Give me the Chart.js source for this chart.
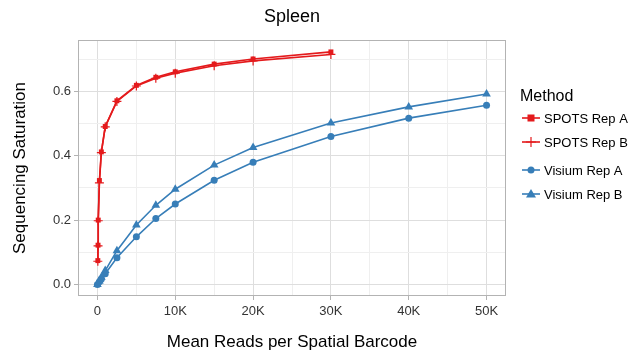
<!DOCTYPE html>
<html>
<head>
<meta charset="utf-8">
<script src="https://cdn.jsdelivr.net/npm/chart.js@4/dist/chart.umd.min.js"></script>
<style>
  html, body { margin: 0; padding: 0; background: #fff; }
  #wrap { width: 640px; height: 362px; }
</style>
</head>
<body>
<div id="wrap"><canvas id="chart" width="640" height="362"></canvas></div>
<script>
(function() {
    'use strict';

    const chartTitle = 'Spleen';
    const xTitle = 'Mean Reads per Spatial Barcode';
    const yTitle = 'Sequencing Saturation';
    const legendTitle = 'Method';

    const spotsReads = [50, 75, 100, 250, 500, 1000, 2500, 5000, 7500, 10000, 15000, 20000, 30000];
    const spotsRepA = [0.074, 0.122, 0.200, 0.323, 0.412, 0.491, 0.571, 0.619, 0.644, 0.661, 0.685, 0.701, 0.723];
    const spotsRepB = [0.072, 0.120, 0.198, 0.316, 0.410, 0.490, 0.569, 0.617, 0.641, 0.657, 0.680, 0.695, 0.715];

    const visiumReads = [0, 250, 500, 1000, 2500, 5000, 7500, 10000, 15000, 20000, 30000, 40000, 50000];
    const visiumRepA = [0, 0.008, 0.017, 0.033, 0.083, 0.148, 0.205, 0.250, 0.324, 0.380, 0.460, 0.517, 0.557];
    const visiumRepB = [0, 0.011, 0.022, 0.043, 0.105, 0.185, 0.246, 0.296, 0.371, 0.426, 0.502, 0.552, 0.592];

    const seriesNames = ['SPOTS Rep A', 'SPOTS Rep B', 'Visium Rep A', 'Visium Rep B'];
    const xTicks = [0, 10000, 20000, 30000, 40000, 50000];
    const xTickLabels = ['0', '10K', '20K', '30K', '40K', '50K'];
    const xMinorTicks = [5000, 15000, 25000, 35000, 45000];
    const yTicks = [0, 0.2, 0.4, 0.6];
    const yMinorTicks = [0.1, 0.3, 0.5, 0.7];

    const RED = '#e41a1c';
    const BLUE = '#377eb8';
    const FONT = '"Liberation Sans", Arial, sans-serif';

    function toPoints(xs, ys) {
        return xs.map((x, i) => ({ x: x, y: ys[i] }));
    }

    function series(label, xs, ys, color, style, radius, order) {
        return {
            label: label,
            data: toPoints(xs, ys),
            borderColor: color,
            backgroundColor: color,
            borderWidth: 1.6,
            pointStyle: style,
            pointRadius: radius,
            pointBorderWidth: style === 'cross' ? 1.2 : 0,
            pointBorderColor: color,
            tension: 0,
            order: order
        };
    }

    function isMajorX(v) {
        return xTicks.some(t => Math.abs(t - v) < 1e-6);
    }

    function isMajorY(v) {
        return yTicks.some(t => Math.abs(t - v) < 1e-6);
    }

    function tickList(major, minor) {
        return major.concat(minor).sort((a, b) => a - b).map(v => ({ value: v }));
    }

    function drawMarker(ctx, style, x, y, color) {
        ctx.save();
        ctx.fillStyle = color;
        ctx.strokeStyle = color;
        ctx.lineWidth = 1.2;
        if (style === 'rect') {
            ctx.fillRect(x - 3.5, y - 3.5, 7, 7);
        } else if (style === 'cross') {
            ctx.beginPath();
            ctx.moveTo(x - 5, y); ctx.lineTo(x + 5, y);
            ctx.moveTo(x, y - 5); ctx.lineTo(x, y + 5);
            ctx.stroke();
        } else if (style === 'circle') {
            ctx.beginPath();
            ctx.arc(x, y, 3.5, 0, Math.PI * 2);
            ctx.fill();
        } else if (style === 'triangle') {
            ctx.beginPath();
            ctx.moveTo(x, y - 5);
            ctx.lineTo(x + 5, y + 3.5);
            ctx.lineTo(x - 5, y + 3.5);
            ctx.closePath();
            ctx.fill();
        }
        ctx.restore();
    }

    const decorPlugin = {
        id: 'decor',
        afterDraw(chart) {
            const ctx = chart.ctx;
            const a = chart.chartArea;

            // panel border
            ctx.save();
            ctx.strokeStyle = '#b3b3b3';
            ctx.lineWidth = 1;
            ctx.strokeRect(a.left + 0.5, a.top + 0.5, a.right - a.left - 1, a.bottom - a.top - 1);

            // chart title
            ctx.fillStyle = '#000';
            ctx.font = '18px ' + FONT;
            ctx.textAlign = 'center';
            ctx.textBaseline = 'middle';
            ctx.fillText(chartTitle, (a.left + a.right) / 2, 17);

            // legend
            ctx.textAlign = 'left';
            ctx.font = '16px ' + FONT;
            ctx.fillText(legendTitle, 520, 97);
            ctx.font = '13px ' + FONT;
            const rows = [118, 142, 170, 194];
            chart.data.datasets.forEach((ds, i) => {
                const y = rows[i];
                ctx.strokeStyle = ds.borderColor;
                ctx.lineWidth = 1.6;
                ctx.beginPath();
                ctx.moveTo(522, y);
                ctx.lineTo(540, y);
                ctx.stroke();
                drawMarker(ctx, ds.pointStyle, 531, y, ds.borderColor);
                ctx.fillStyle = '#000';
                ctx.fillText(ds.label, 544, y + 1);
            });
            ctx.restore();
        }
    };

    new Chart(document.getElementById('chart'), {
        type: 'line',
        data: {
            datasets: [
                series(seriesNames[0], spotsReads, spotsRepA, RED, 'rect', 3.5, 0),
                series(seriesNames[1], spotsReads, spotsRepB, RED, 'cross', 4.5, 1),
                series(seriesNames[2], visiumReads, visiumRepA, BLUE, 'circle', 3.5, 2),
                series(seriesNames[3], visiumReads, visiumRepB, BLUE, 'triangle', 5, 3)
            ]
        },
        options: {
            responsive: false,
            animation: false,
            layout: { padding: { top: 40, right: 134, left: 0, bottom: 0 } },
            plugins: {
                legend: { display: false },
                tooltip: { enabled: false }
            },
            scales: {
                x: {
                    type: 'linear',
                    min: -2500,
                    max: 52500,
                    afterBuildTicks: function(scale) { scale.ticks = tickList(xTicks, xMinorTicks); },
                    afterFit: function(scale) { scale.height = 66; },
                    border: { display: false },
                    grid: {
                        color: ctx => isMajorX(ctx.tick.value) ? '#dedede' : '#efefef',
                        tickColor: ctx => isMajorX(ctx.tick.value) ? '#b3b3b3' : 'rgba(0,0,0,0)',
                        tickLength: 4,
                        lineWidth: 1
                    },
                    ticks: {
                        autoSkip: false,
                        maxRotation: 0,
                        padding: 4,
                        color: '#333',
                        font: { family: FONT, size: 13 },
                        callback: function(v) {
                            const i = xTicks.findIndex(t => Math.abs(t - v) < 1e-6);
                            return i === -1 ? '' : xTickLabels[i];
                        }
                    },
                    title: {
                        display: true,
                        text: xTitle,
                        color: '#000',
                        font: { family: FONT, size: 17 },
                        padding: { top: 0, bottom: 9 }
                    }
                },
                y: {
                    type: 'linear',
                    min: -0.036,
                    max: 0.76,
                    afterBuildTicks: function(scale) { scale.ticks = tickList(yTicks, yMinorTicks); },
                    afterFit: function(scale) { scale.width = 78; },
                    border: { display: false },
                    grid: {
                        color: ctx => isMajorY(ctx.tick.value) ? '#dedede' : '#efefef',
                        tickColor: ctx => isMajorY(ctx.tick.value) ? '#b3b3b3' : 'rgba(0,0,0,0)',
                        tickLength: 4,
                        lineWidth: 1
                    },
                    ticks: {
                        autoSkip: false,
                        padding: 3,
                        color: '#333',
                        font: { family: FONT, size: 13 },
                        callback: function(v) {
                            return isMajorY(v) ? v.toFixed(1) : '';
                        }
                    },
                    title: {
                        display: true,
                        text: yTitle,
                        color: '#000',
                        font: { family: FONT, size: 17 },
                        padding: { top: 10, bottom: 0 }
                    }
                }
            }
        },
        plugins: [decorPlugin]
    });
})();
</script>
</body>
</html>
